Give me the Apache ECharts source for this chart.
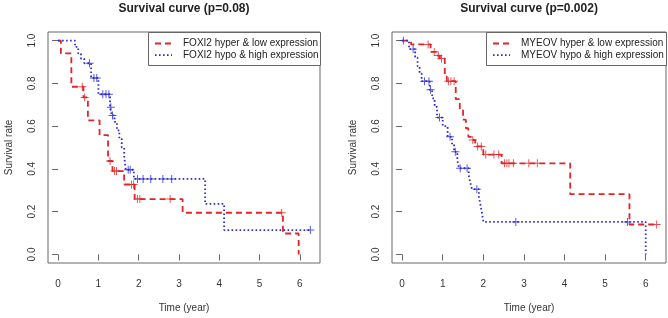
<!DOCTYPE html>
<html>
<head>
<meta charset="utf-8">
<script src="https://cdn.jsdelivr.net/npm/echarts@6/dist/echarts.min.js"></script>
<style>
  html, body { margin: 0; padding: 0; background: #fff; }
  #chart { width: 668px; height: 318px; }
</style>
</head>
<body>
<div id="chart"></div>
<script>
// ---- FOXI2 panel (left) ----
const foxiLowTime = [0, 0.07, 0.33, 0.63, 0.74, 1.03, 1.24, 1.35, 1.64, 1.9, 3.09, 5.58, 5.97];
const foxiLowSurv = [1, 0.94, 0.784, 0.734, 0.627, 0.558, 0.437, 0.39, 0.327, 0.259, 0.195, 0.098, 0];
const foxiLowCensT = [0.6, 0.66, 1.29, 1.4, 1.45, 1.82, 1.87, 1.97, 2.03, 2.78, 5.55];
const foxiLowCensS = [0.784, 0.734, 0.437, 0.39, 0.39, 0.327, 0.327, 0.259, 0.259, 0.259, 0.195];

const foxiHighTime = [0, 0.42, 0.5, 0.57, 0.65, 0.82, 1.0, 1.29, 1.33, 1.4, 1.46, 1.52, 1.58, 1.64, 1.68, 1.88, 3.65, 4.12, 6.26];
const foxiHighSurv = [1, 0.97, 0.94, 0.915, 0.894, 0.825, 0.749, 0.688, 0.65, 0.62, 0.58, 0.54, 0.5, 0.46, 0.396, 0.353, 0.236, 0.114, 0.114];
const foxiHighCensT = [0.78, 0.89, 0.96, 1.11, 1.19, 1.26, 1.31, 1.35, 1.74, 1.79, 1.97, 2.11, 2.3, 2.6, 2.82, 6.26];
const foxiHighCensS = [0.894, 0.825, 0.825, 0.749, 0.749, 0.749, 0.688, 0.65, 0.396, 0.396, 0.353, 0.353, 0.353, 0.353, 0.353, 0.114];

// ---- MYEOV panel (right) ----
const myeovLowTime = [0, 0.22, 0.7, 0.85, 0.93, 1.05, 1.1, 1.32, 1.42, 1.5, 1.57, 1.63, 1.7, 1.8, 2.0, 2.45, 4.14, 5.6, 6.27];
const myeovLowSurv = [1, 0.982, 0.947, 0.93, 0.916, 0.832, 0.81, 0.726, 0.68, 0.63, 0.59, 0.55, 0.535, 0.505, 0.467, 0.426, 0.282, 0.14, 0.14];
const myeovLowCensT = [0.64, 0.79, 0.89, 0.97, 1.14, 1.2, 1.28, 1.74, 1.86, 1.95, 2.06, 2.26, 2.38, 2.52, 2.58, 2.63, 2.74, 3.12, 3.33, 6.27];
const myeovLowCensS = [0.982, 0.947, 0.93, 0.916, 0.81, 0.81, 0.81, 0.535, 0.505, 0.505, 0.467, 0.467, 0.467, 0.426, 0.426, 0.426, 0.426, 0.426, 0.426, 0.14];

const myeovHighTime = [0, 0.17, 0.32, 0.38, 0.43, 0.48, 0.68, 0.74, 0.8, 0.86, 1.0, 1.12, 1.23, 1.28, 1.36, 1.4, 1.64, 1.68, 1.72, 1.89, 1.93, 1.97, 2.0, 6.0];
const myeovHighSurv = [1, 0.96, 0.92, 0.88, 0.845, 0.81, 0.77, 0.73, 0.69, 0.64, 0.6, 0.55, 0.515, 0.48, 0.44, 0.403, 0.37, 0.335, 0.305, 0.27, 0.23, 0.19, 0.152, 0];
const myeovHighCensT = [0.03, 0.27, 0.55, 0.66, 0.7, 0.92, 1.18, 1.31, 1.43, 1.6, 1.84, 2.8, 5.55];
const myeovHighCensS = [1, 0.96, 0.81, 0.81, 0.77, 0.64, 0.55, 0.48, 0.403, 0.403, 0.305, 0.152, 0.152];

const xTicks = [0, 1, 2, 3, 4, 5, 6];
const yTicks = [0, 0.2, 0.4, 0.6, 0.8, 1.0];

const RED = '#e42326';
const BLUE = '#2a2ad4';
const FONT = 'Liberation Sans, Arial, sans-serif';
const PLUS = 'path://M4.4,0H5.6V4.4H10V5.6H5.6V10H4.4V5.6H0V4.4H4.4Z';

const zip = (a, b) => a.map((v, i) => [v, b[i]]);

function xAxisFor(gridIndex) {
  return {
    type: 'value', gridIndex, min: -0.25, max: 6.5,
    axisLine: { show: false },
    splitLine: { show: false },
    axisTick: { show: true, customValues: xTicks, length: 6, lineStyle: { color: '#666' } },
    axisLabel: { customValues: xTicks, margin: 16, color: '#333', fontSize: 10, fontFamily: FONT },
    name: 'Time (year)', nameLocation: 'middle', nameGap: 40,
    nameTextStyle: { color: '#333', fontSize: 10, fontFamily: FONT }
  };
}

function yAxisFor(gridIndex) {
  return {
    type: 'value', gridIndex, min: -0.04, max: 1.04,
    axisLine: { show: false },
    splitLine: { show: false },
    axisTick: { show: true, customValues: yTicks, length: 6, lineStyle: { color: '#666' } },
    axisLabel: {
      customValues: yTicks, rotate: 90, margin: 11, color: '#333', fontSize: 10, fontFamily: FONT,
      formatter: v => v.toFixed(1)
    },
    name: 'Survival rate', nameLocation: 'middle', nameGap: 34,
    nameTextStyle: { color: '#333', fontSize: 10, fontFamily: FONT }
  };
}

function stepSeries(idx, time, surv, color, dash, width) {
  return {
    type: 'line', xAxisIndex: idx, yAxisIndex: idx, step: 'end',
    symbol: 'none', data: zip(time, surv), animation: false,
    lineStyle: { color, width, type: dash }
  };
}

function censorSeries(idx, t, s, color) {
  return {
    type: 'scatter', xAxisIndex: idx, yAxisIndex: idx,
    symbol: PLUS, symbolSize: 8, data: zip(t, s), animation: false,
    itemStyle: { color }
  };
}

function legendBox(x, y, w, h, lines) {
  const els = [{
    type: 'rect', shape: { x: x + 0.5, y: y + 0.5, width: w, height: h },
    style: { fill: '#fff', stroke: '#666', lineWidth: 1 }, z: 10
  }];
  lines.forEach((l, i) => {
    const cy = y + 11.5 + i * 11.7;
    els.push({
      type: 'line', shape: { x1: x + 7, y1: cy, x2: x + 24, y2: cy },
      style: { stroke: l.color, lineWidth: l.width, lineDash: l.dash }, z: 11
    });
    els.push({
      type: 'text', x: x + 35, y: cy,
      style: { text: l.text, fill: '#222', font: '10px ' + FONT, verticalAlign: 'middle' }, z: 11
    });
  });
  return els;
}

const chart = echarts.init(document.getElementById('chart'), null, { renderer: 'canvas' });

chart.setOption({
  backgroundColor: '#fff',
  animation: false,
  title: [
    { text: 'Survival curve (p=0.08)', left: 184, top: 3, textAlign: 'center', padding: 0,
      textStyle: { fontSize: 12, fontWeight: 'bold', color: '#222', fontFamily: FONT } },
    { text: 'Survival curve (p=0.002)', left: 529, top: 3, textAlign: 'center', padding: 0,
      textStyle: { fontSize: 12, fontWeight: 'bold', color: '#222', fontFamily: FONT } }
  ],
  grid: [
    { left: 48, top: 32, width: 272, height: 236, show: true, borderColor: '#666', borderWidth: 1, backgroundColor: '#fff' },
    { left: 392, top: 32, width: 274, height: 236, show: true, borderColor: '#666', borderWidth: 1, backgroundColor: '#fff' }
  ],
  xAxis: [xAxisFor(0), xAxisFor(1)],
  yAxis: [yAxisFor(0), yAxisFor(1)],
  series: [
    stepSeries(0, foxiLowTime, foxiLowSurv, RED, [6, 4], 1.8),
    stepSeries(0, foxiHighTime, foxiHighSurv, BLUE, [1.6, 2.4], 1.8),
    censorSeries(0, foxiLowCensT, foxiLowCensS, RED),
    censorSeries(0, foxiHighCensT, foxiHighCensS, BLUE),
    stepSeries(1, myeovLowTime, myeovLowSurv, RED, [6, 4], 1.8),
    stepSeries(1, myeovHighTime, myeovHighSurv, BLUE, [1.6, 2.4], 1.8),
    censorSeries(1, myeovLowCensT, myeovLowCensS, RED),
    censorSeries(1, myeovHighCensT, myeovHighCensS, BLUE)
  ],
  graphic: [
    ...legendBox(148, 32, 172, 33, [
      { text: 'FOXI2 hyper & low expression', color: RED, dash: [6, 4], width: 1.8 },
      { text: 'FOXI2 hypo & high expression', color: BLUE, dash: [1.6, 2.4], width: 1.8 }
    ]),
    ...legendBox(486, 32, 180, 33, [
      { text: 'MYEOV hyper & low expression', color: RED, dash: [6, 4], width: 1.8 },
      { text: 'MYEOV hypo & high expression', color: BLUE, dash: [1.6, 2.4], width: 1.8 }
    ])
  ]
});
</script>
</body>
</html>
